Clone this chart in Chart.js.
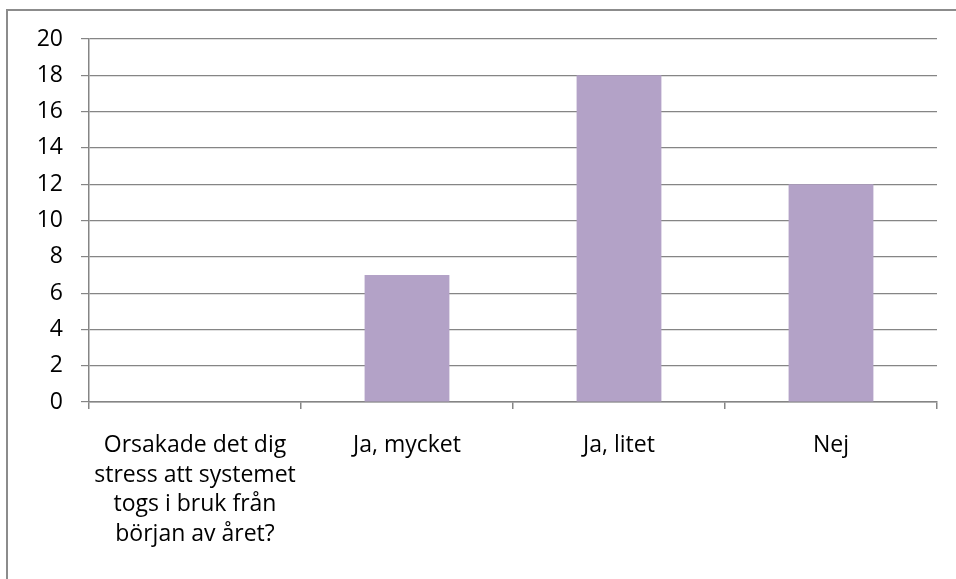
<!DOCTYPE html>
<html lang="sv">
<head>
    <meta charset="UTF-8">
    <title>Stress vid systemstart</title>
    <script src="https://cdn.jsdelivr.net/npm/chart.js"></script>
    <style>
        html, body { margin: 0; padding: 0; background: #fff; overflow: hidden; }
        .wrap { position: relative; width: 956px; height: 579px; }
        .frame { position: absolute; left: 6px; top: 9px; width: 2000px; height: 2000px;
                 border: 2px solid #8c8c8c; box-sizing: border-box; }
        canvas { position: absolute; left: 0; top: 0; }
    </style>
</head>
<body>
    <div class="wrap">
        <div class="frame"></div>
        <canvas id="chart" width="956" height="579"></canvas>
    </div>

    <script>
        // data
        const categories = [
            ['Orsakade det dig', 'stress att systemet', 'togs i bruk från', 'början av året?'],
            'Ja, mycket',
            'Ja, litet',
            'Nej'
        ];
        const answers = [0, 7, 18, 12];
        const yTicks = [0, 2, 4, 6, 8, 10, 12, 14, 16, 18, 20];

        const gridGray = '#858585';
        const font = { family: '"Open Sans", sans-serif', size: 23, lineHeight: 1.28 };

        new Chart(document.getElementById('chart'), {
            type: 'bar',
            data: {
                labels: categories,
                datasets: [{
                    data: answers,
                    backgroundColor: '#b3a2c7',
                    borderWidth: 0,
                    barPercentage: 0.4,
                    categoryPercentage: 1
                }]
            },
            options: {
                responsive: false,
                animation: false,
                layout: { padding: { left: 0, right: 19, top: 39, bottom: 0 } },
                plugins: { legend: { display: false }, tooltip: { enabled: false } },
                scales: {
                    x: {
                        offset: true,
                        grid: { offset: true, drawOnChartArea: false, color: gridGray, tickLength: 7, lineWidth: 1.5 },
                        border: { color: gridGray, width: 1.5 },
                        ticks: { color: '#000', font: font, maxRotation: 0, autoSkip: false, padding: 22 },
                        afterFit: s => { s.height = 177; }
                    },
                    y: {
                        min: 0,
                        max: 20,
                        afterBuildTicks: s => { s.ticks = yTicks.map(v => ({ value: v })); },
                        grid: { color: gridGray, tickLength: 8, lineWidth: 1.2 },
                        border: { color: gridGray, width: 1.5 },
                        ticks: { color: '#000', font: font, padding: 18 },
                        afterFit: s => { s.width = 89; }
                    }
                }
            }
        });
    </script>
</body>
</html>
